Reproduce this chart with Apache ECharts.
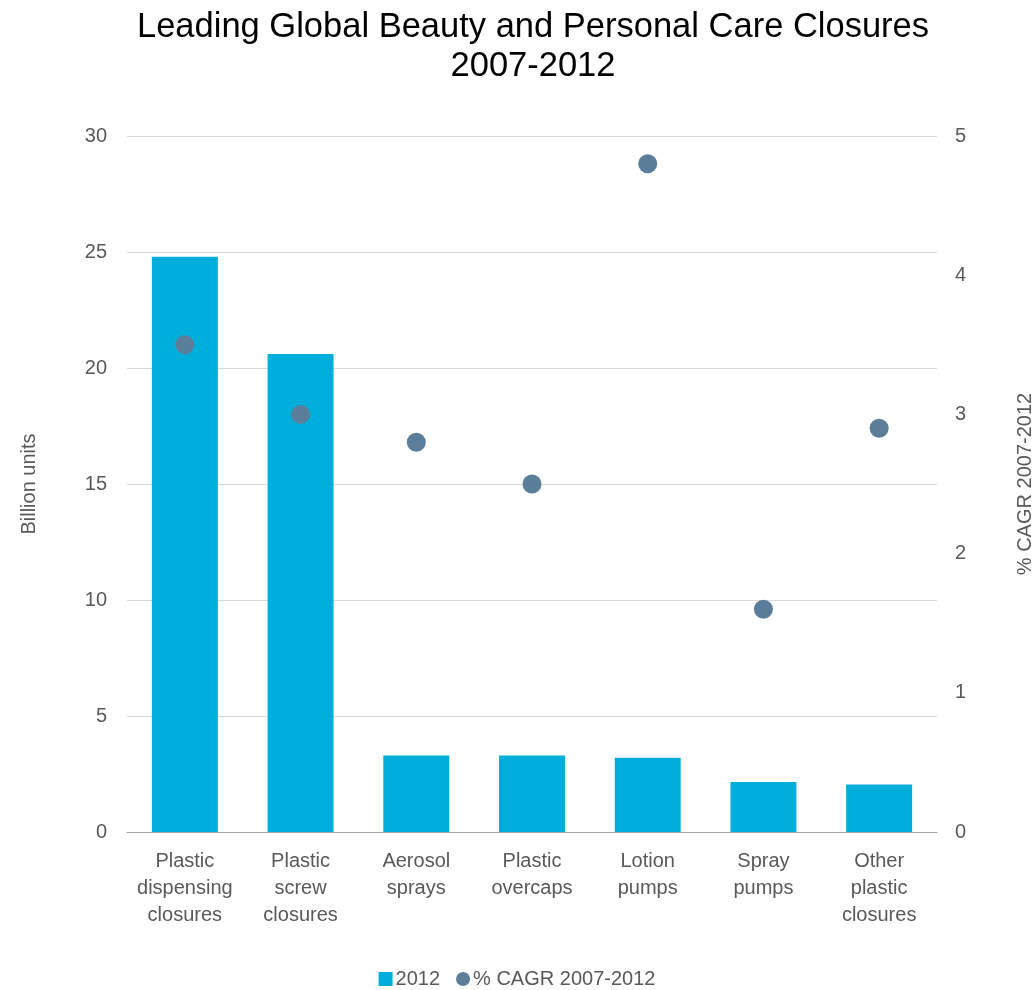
<!DOCTYPE html>
<html>
<head>
<meta charset="utf-8">
<script src="https://cdn.jsdelivr.net/npm/echarts@6/dist/echarts.min.js"></script>
<style>html,body{margin:0;padding:0;background:#fff;overflow:hidden;}#c{width:1034px;height:990px;display:block;}</style>
</head>
<body>
<div id="c"></div>
<script>
const categories = ["Plastic\ndispensing\nclosures", "Plastic\nscrew\nclosures", "Aerosol\nsprays", "Plastic\novercaps", "Lotion\npumps", "Spray\npumps", "Other\nplastic\nclosures"];
const units2012 = [24.8, 20.6, 3.3, 3.3, 3.2, 2.15, 2.05];
const cagr = [3.5, 3.0, 2.8, 2.5, 4.8, 1.6, 2.9];
const leftTicks = [0, 5, 10, 15, 20, 25, 30];
const rightTicks = [0, 1, 2, 3, 4, 5];

const font = '"Liberation Sans", Arial, sans-serif';
const chart = echarts.init(document.getElementById('c'), null, {renderer: 'canvas', width: 1034, height: 990});
chart.setOption({
  animation: false,
  backgroundColor: '#fff',
  title: {
    text: 'Leading Global Beauty and Personal Care Closures\n2007-2012',
    left: 528, textAlign: 'center', top: 3,
    textStyle: {fontFamily: font, fontSize: 34.5, fontWeight: 'normal', color: '#000', lineHeight: 39}
  },
  legend: {
    bottom: -4, left: 'center', itemGap: 16, itemWidth: 14, itemHeight: 14,
    textStyle: {fontFamily: font, fontSize: 20, color: '#595959', padding: [0, 0, 0, -2]},
    data: [{name: '2012', icon: 'rect'}, {name: '% CAGR 2007-2012', icon: 'circle'}]
  },
  grid: {left: 127, right: 97, top: 136, bottom: 158, outerBoundsMode: 'none', containLabel: false},
  xAxis: {
    type: 'category', data: categories,
    axisLine: {lineStyle: {color: '#a6a6a6'}},
    axisTick: {alignWithLabel: false, length: 6, lineStyle: {color: '#a6a6a6'}},
    axisLabel: {fontFamily: font, fontSize: 20, color: '#595959', lineHeight: 27, margin: 16, interval: 0}
  },
  yAxis: [{
    type: 'value', min: 0, max: 30, interval: 5,
    name: 'Billion units', nameLocation: 'middle', nameGap: 88, nameRotate: 90,
    nameTextStyle: {fontFamily: font, fontSize: 20, color: '#595959'},
    axisLine: {show: false}, axisTick: {show: false},
    splitLine: {lineStyle: {color: '#d9d9d9'}},
    axisLabel: {fontFamily: font, fontSize: 20, color: '#595959', margin: 20,
      formatter: v => leftTicks.includes(v) ? String(v) : ''}
  }, {
    type: 'value', min: 0, max: 5, interval: 1, position: 'right',
    name: '% CAGR 2007-2012', nameLocation: 'middle', nameGap: 78, nameRotate: 90,
    nameTextStyle: {fontFamily: font, fontSize: 20, color: '#595959'},
    axisLine: {show: false}, axisTick: {show: false}, splitLine: {show: false},
    axisLabel: {fontFamily: font, fontSize: 20, color: '#595959', margin: 18,
      formatter: v => rightTicks.includes(v) ? String(v) : ''}
  }],
  series: [{
    name: '2012', type: 'bar', data: units2012, barWidth: '57%',
    itemStyle: {color: '#00aedb'}, yAxisIndex: 0
  }, {
    name: '% CAGR 2007-2012', type: 'scatter', data: cagr, yAxisIndex: 1,
    symbol: 'circle', symbolSize: 19, itemStyle: {color: '#5b7f9a', opacity: 1}
  }]
});
</script>
</body>
</html>
